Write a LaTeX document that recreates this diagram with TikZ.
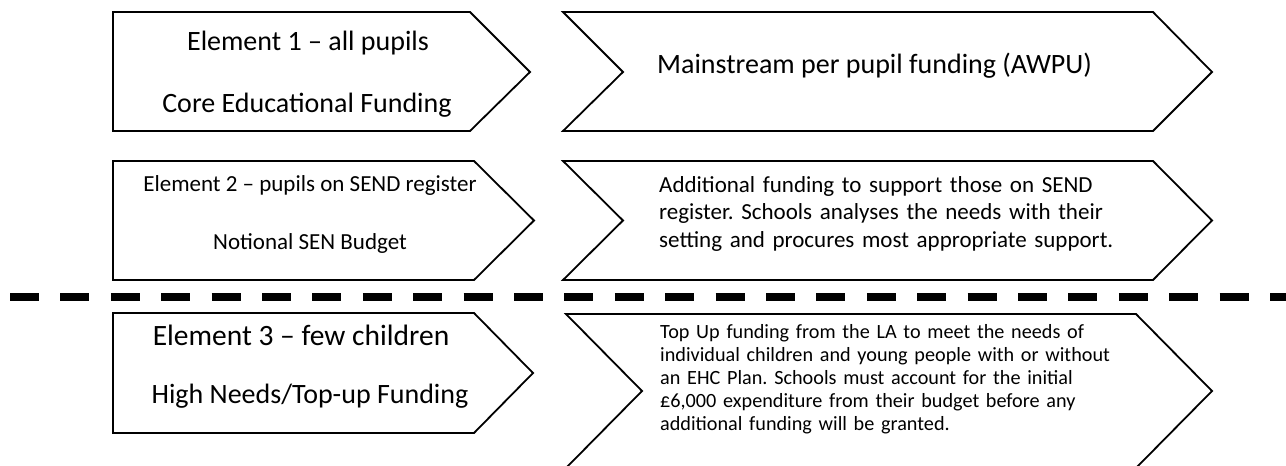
\documentclass[tikz,border=0pt]{standalone}
\usepackage{fontspec}
\setmainfont{Carlito}
\frenchspacing
\begin{document}
\begin{tikzpicture}[x=1pt,y=-1pt,
  shapeline/.style={draw=black,line width=1.8pt,line join=miter,fill=white},
  bigtxt/.style={inner sep=0pt,font=\fontsize{28}{34}\selectfont},
  midtxt/.style={inner sep=0pt,font=\fontsize{23}{27.5}\selectfont},
  paratwo/.style={inner sep=0pt,anchor=base west,text width=520pt,align=left,font=\fontsize{23}{27.5}\selectfont},
  parathree/.style={inner sep=0pt,anchor=base west,text width=520pt,align=left,font=\fontsize{20.2}{23}\selectfont},
  divider/.style={line width=7.5pt,dash pattern=on 29pt off 21.4pt}]
\useasboundingbox[fill=white] (0,0) rectangle (1286,466);
\clip (0,0) rectangle (1286,466);
% row 1
\draw[shapeline] (113,12) -- (470,12) -- (530,72) -- (470,131) -- (113,131) -- cycle;
\draw[shapeline] (563,12) -- (1153,12) -- (1212,72) -- (1153,131) -- (563,131) -- (623,72) -- cycle;
% row 2
\draw[shapeline] (113,161) -- (474,161) -- (534,220.5) -- (474,280) -- (113,280) -- cycle;
\draw[shapeline] (563,161) -- (1153,161) -- (1212,220.5) -- (1153,280) -- (563,280) -- (623,220.5) -- cycle;
% divider
\coordinate (dl) at (10,297);
\coordinate (dr) at (1300,297);
\draw[divider] (dl) -- (dr);
% row 3
\draw[shapeline] (113,313) -- (474,313) -- (533,373) -- (474,433) -- (113,433) -- cycle;
\draw[shapeline] (566,314) -- (1136,314) -- (1212,391) -- (1136,468) -- (566,468) -- (642,391) -- cycle;
% texts
\node[bigtxt,anchor=base] (e1a) at (308,50) {Element 1 – all pupils};
\node[bigtxt,anchor=base] (e1b) at (307,112) {Core Educational Funding};
\node[bigtxt,anchor=base west] (r1) at (657,73) {Mainstream per pupil funding (AWPU)};
\node[midtxt,anchor=base] (e2a) at (310,191) {Element 2 – pupils on SEND register};
\node[midtxt,anchor=base] (e2b) at (310,249) {Notional SEN Budget};
\node[paratwo] (r2) at (659,192) {Additional funding to support those on SEND\\register. Schools analyses the needs with their\\setting and procures most appropriate support.};
\node[bigtxt,anchor=base,font=\fontsize{29.5}{34}\selectfont] (e3a) at (301,345) {Element 3 – few children};
\node[bigtxt,anchor=base] (e3b) at (310,403) {High Needs/Top-up Funding};
\node[parathree] (r3) at (660,338) {Top Up funding from the LA to meet the needs of\\individual children and young people with or without\\an EHC Plan. Schools must account for the initial\\£6,000 expenditure from their budget before any\\additional funding will be granted.};
\end{tikzpicture}
\end{document}
